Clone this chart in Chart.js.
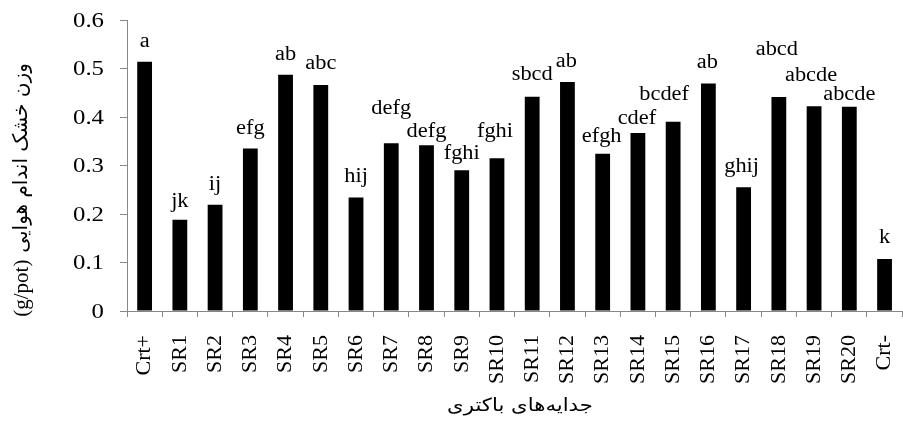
<!DOCTYPE html>
<html>
<head>
<meta charset="utf-8">
<script src="https://cdn.jsdelivr.net/npm/chart.js@4/dist/chart.umd.min.js"></script>
<style>
  html, body { margin: 0; padding: 0; background: #fff; overflow: hidden; }
  #wrap { width: 903px; height: 421px; overflow: hidden; }
  canvas { display: block; }
</style>
</head>
<body>
<div id="wrap"><canvas id="c" width="929" height="421"></canvas></div>
<script>
// Bacterial isolates and controls
const isolates = ['Crt+', 'SR1', 'SR2', 'SR3', 'SR4', 'SR5', 'SR6', 'SR7', 'SR8', 'SR9', 'SR10',
  'SR11', 'SR12', 'SR13', 'SR14', 'SR15', 'SR16', 'SR17', 'SR18', 'SR19', 'SR20', 'Crt-'];

// Shoot dry weight (g/pot)
const shootDryWeight = [0.514, 0.188, 0.219, 0.335, 0.487, 0.466, 0.234, 0.346, 0.342, 0.290, 0.315,
  0.442, 0.472, 0.324, 0.367, 0.390, 0.469, 0.255, 0.441, 0.422, 0.421, 0.107];

// Mean-comparison letters
const groupLetters = ['a', 'jk', 'ij', 'efg', 'ab', 'abc', 'hij', 'defg', 'defg', 'fghi', 'fghi',
  'sbcd', 'ab', 'efgh', 'cdef', 'bcdef', 'ab', 'ghij', 'abcd', 'abcde', 'abcde', 'k'];

// Y axis tick labels
const yTickLabels = ['0', '0.1', '0.2', '0.3', '0.4', '0.5', '0.6'];

// Axis titles
const yTitleUnit = '(g/pot)';
const yTitleText = 'وزن خشک اندام هوایی';
const xTitleText = 'جدایه‌های باکتری';

// Letter placement: baseline lift above bar top and horizontal nudge (px)
const letterLift = [15, 13, 15, 15, 15, 16, 16, 29, 8, 11, 21, 17, 15, 12, 9, 22, 16, 15, 42, 25, 7, 16];
const letterShift = [0, 0, 0, 0, 0, 0, 0, 0, 0, 0, -2, 0, -1, -1, -1, -9, -1, -2, -2, -3, 0, 0];

const SERIF = '"Liberation Serif", "Times New Roman", serif';
const SANS = '"DejaVu Sans", sans-serif';
const AXIS = '#878787';

// Draws text stretched horizontally by the given factor
function wideText(ctx, text, x, y, align, widen) {
  ctx.save();
  ctx.translate(x, y);
  ctx.scale(widen, 1);
  ctx.textAlign = align;
  ctx.fillText(text, 0, 0);
  ctx.restore();
}

const annotate = {
  id: 'annotate',
  afterDatasetsDraw(chart) {
    const ctx = chart.ctx;
    const meta = chart.getDatasetMeta(0);
    const yScale = chart.scales.y;

    // Y tick labels
    ctx.save();
    ctx.fillStyle = '#000';
    ctx.font = '21px ' + SERIF;
    ctx.textBaseline = 'middle';
    yScale.ticks.forEach((t, i) => {
      wideText(ctx, yTickLabels[i], 104, yScale.getPixelForValue(t.value) + 1, 'right', 1.18);
    });
    ctx.restore();

    // Letters above bars
    ctx.save();
    ctx.fillStyle = '#000';
    ctx.font = '20px ' + SERIF;
    ctx.textBaseline = 'alphabetic';
    meta.data.forEach((bar, i) => {
      wideText(ctx, groupLetters[i], bar.x + letterShift[i], bar.y - letterLift[i], 'center', 1.12);
    });
    ctx.restore();

    // Y axis title: serif unit followed by Persian words, rotated
    ctx.save();
    ctx.translate(22, 190);
    ctx.rotate(-Math.PI / 2);
    ctx.fillStyle = '#000';
    ctx.textBaseline = 'middle';
    ctx.textAlign = 'left';
    ctx.font = '21px ' + SERIF;
    const wUnit = ctx.measureText(yTitleUnit).width;
    ctx.font = '20px ' + SANS;
    const wText = ctx.measureText(yTitleText).width;
    const gap = 7;
    const start = -(wUnit + gap + wText) / 2;
    ctx.font = '21px ' + SERIF;
    ctx.fillText(yTitleUnit, start, 0);
    ctx.font = '20px ' + SANS;
    ctx.direction = 'rtl';
    ctx.textAlign = 'right';
    ctx.fillText(yTitleText, start + wUnit + gap + wText, 0);
    ctx.restore();

    // X axis title
    ctx.save();
    ctx.fillStyle = '#000';
    ctx.font = '18px ' + SANS;
    ctx.textBaseline = 'middle';
    ctx.direction = 'rtl';
    wideText(ctx, xTitleText, 520, 406, 'center', 1.18);
    ctx.restore();
  }
};

new Chart(document.getElementById('c'), {
  type: 'bar',
  data: {
    labels: isolates,
    datasets: [{
      data: shootDryWeight,
      backgroundColor: '#000',
      borderWidth: 0,
      categoryPercentage: 1,
      barPercentage: 0.42
    }]
  },
  options: {
    responsive: false,
    animation: false,
    devicePixelRatio: 1,
    layout: { padding: { top: 20, right: 2, left: 0, bottom: 0 } },
    plugins: { legend: { display: false }, tooltip: { enabled: false }, title: { display: false } },
    scales: {
      x: {
        grid: { display: true, drawOnChartArea: false, offset: true, color: AXIS, tickLength: 6 },
        border: { color: AXIS, width: 1 },
        ticks: {
          autoSkip: false, maxRotation: 90, minRotation: 90, color: '#000', padding: 18,
          font: { family: SERIF, size: 22 }
        },
        afterFit(s) { s.height = 110; }
      },
      y: {
        min: 0, max: 0.6,
        grid: { display: true, drawOnChartArea: false, color: AXIS, tickLength: 7 },
        border: { color: AXIS, width: 1 },
        ticks: { stepSize: 0.1, display: false },
        afterFit(s) { s.width = 127; }
      }
    }
  },
  plugins: [annotate]
});
</script>
</body>
</html>
